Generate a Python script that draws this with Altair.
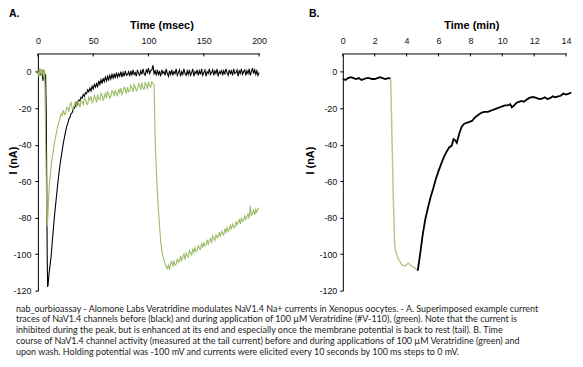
import altair as alt
import pandas as pd

# ---------------- Panel A: current traces (msec, nA) ----------------
black_t_fast = [0, 1, 2, 3, 4, 4.7, 5, 6, 7, 7.5, 8, 8.4, 8.8, 9.2, 10, 11, 12, 13, 14, 15,
                16, 17, 18, 19, 20, 21, 22, 23, 24]
black_v_fast = [-1, 1, -2, 0, -2, -5, 1, -1, -2, -20, -60, -100, -118, -117, -111, -106, -101, -93, -86, -79,
                -73, -67, -61, -56, -51, -47, -43, -39, -36]
black_t_slow = list(range(25, 201))
black_v_slow = [
    -33, -30, -28.5, -26, -25, -23, -22.5, -20.5, -20, -18.5,
    -17, -18, -15.5, -16, -14, -14.5, -12.5, -13.5, -11.5, -12,
    -10, -11, -9, -10.5, -8, -9.5, -7, -8.5, -6.5, -8,
    -5, -7, -4.5, -6.5, -3.5, -5.5, -3, -5, -2.5, -4.5,
    -2, -4, -1.5, -3.5, -1, -3.5, -0.5, -3, -1, -2.5,
    0, -3, -0.5, -2.5, 0.5, -2, -1.5, 0, -2.5, 0.5,
    -2, 1, -1.5, -0.5, -2.5, 1, -1, -2, 0.5, -1.5,
    1.5, -1, -2, 1, -0.5, 2, -1, 0.5, 1, 3.5,
    -1, 0.5, -2, 1, -1.5, 0, -2.5, 1, -1, 0,
    -2, 1.5, -1, -2.5, 0.5, -1.5, 1, -2, 0, -1,
    1.5, -2, -0.5, 1, -2.5, 0, -1.5, 1.5, -1, -2,
    0.5, -1.5, 1, -2, -0.5, 1.5, -2.5, 0, -1, 1,
    -2, 0.5, -1.5, 1.5, -2, -0.5, 1, -2.5, 0, -1,
    1.5, -1.5, -0.5, 1, -2, 0.5, -1, 1.5, -2.5, 0,
    -1, 1, -2, 0.5, -1.5, 1.5, -0.5, -2, 1, -1,
    0.5, -2, 1.5, -1, -0.5, 1, -2.5, 0.5, -1, 1.5,
    -1.5, 0, 1, -2, 0.5, -1, 1.5, -2, 0, 2,
    -1, 1, -1.5, 0.5, -2, -0.5,
]

green_t_fast = [0, 1, 2, 3, 4, 5, 5.5, 6, 6.4, 6.8, 7.2, 7.7, 8.1, 8.5, 9, 9.8, 10.5, 11.5,
                12.5, 13.7, 15, 16.7, 18, 19.6]
green_v_fast = [1, -3, 2, -2, 1.5, -3, 1, -2, -10, -28, -45, -64, -78, -85, -80, -68, -61, -55,
                -49, -44.5, -39, -33.5, -29.5, -26.4]
green_t_mid = list(range(21, 105))
green_v_mid = [
    -23, -24, -21, -23.5, -23, -19.5, -20, -22, -18, -17,
    -20, -20.5, -17.5, -16.5, -19.5, -15.5, -17.5, -19.5, -16, -16.5,
    -18, -14.5, -15, -17.5, -18, -14, -15.5, -13.5, -17, -16,
    -13, -14.5, -17, -12.5, -15, -15.5, -12, -12.5, -15.5, -14,
    -11.5, -14.5, -11, -12, -14.5, -13.5, -10.5, -11, -13.5, -10,
    -12.5, -13, -9.5, -11.5, -9, -12.5, -11, -8.5, -9.5, -12,
    -8.5, -11, -10.5, -7.5, -9, -11, -7, -8.5, -10.5, -9.5,
    -6.5, -7.5, -10, -6, -9, -9.5, -6, -7, -9.5, -5.5,
    -8, -8.5, -5.5, -6.5,
]
green_t_drop = [105, 105.5, 106, 107, 108, 109, 110, 111, 112, 113, 114, 115, 116, 117]
green_v_drop = [-7, -20, -38, -52, -65.5, -76, -85, -93, -97.5, -101, -103.6, -105, -107, -108]
green_t_tail = list(range(118, 201))
green_v_tail = [
    -106, -108.5, -105, -104, -107, -103.5, -106, -105.5, -102.5, -104.5,
    -104, -101, -103.5, -101.5, -100, -103, -99.5, -101, -101.5, -98,
    -99.5, -100.5, -97, -99, -96.5, -98.5, -98, -95, -97, -97.5,
    -94, -96.5, -93.5, -95.5, -95, -92, -94.5, -92.5, -91.5, -94,
    -90, -91.5, -92.5, -89, -91, -90.5, -88, -90.5, -87.5, -88.5,
    -89.5, -86, -88, -85.5, -87.5, -86.5, -84, -86.5, -83.5, -85,
    -85.5, -82, -84, -82.5, -81, -83.5, -80, -82, -81.5, -79,
    -81, -79.5, -78, -80.5, -73.5, -79, -77.5, -76, -78.5, -75.5,
    -77, -75, -74.5,
]

# ---------------- Panel B: time course (min, nA) ----------------
b_pre_t = [0, 0.17, 0.33, 0.5, 0.67, 0.83, 1.0, 1.17, 1.33, 1.5, 1.67, 1.83, 2.0, 2.17, 2.33,
           2.5, 2.67, 2.83, 3.0]
b_pre_v = [-4, -4.5, -3.5, -3, -3.5, -4, -3.5, -4.5, -4, -3.5, -3.5, -4, -4, -3.5, -3,
           -3.5, -4, -3.5, -3.7]
b_ver_t = [3.0, 3.17, 3.25, 3.33, 3.5, 3.7, 3.9, 4.1, 4.33, 4.5, 4.7]
b_ver_v = [-3.7, -70, -95, -99, -103, -105.8, -106.6, -105, -106.6, -107.5, -109]
b_wash_t = [4.7, 4.85, 5.0, 5.17, 5.33, 5.5, 5.67, 5.83, 6.0, 6.17, 6.33, 6.5, 6.67, 6.83,
            6.94, 7.04, 7.15, 7.3, 7.46, 7.62, 7.77, 7.94, 8.1, 8.29, 8.45, 8.6, 8.75, 8.9,
            9.1, 9.25, 9.4, 9.55, 9.7, 9.85, 10.0, 10.17, 10.33, 10.5, 10.6, 10.75, 10.9,
            11.05, 11.2, 11.35, 11.5, 11.67, 11.83, 12.0, 12.17, 12.33, 12.5, 12.67, 12.83,
            13.0, 13.17, 13.33, 13.5, 13.67, 13.83, 14.0, 14.17, 14.33]
b_wash_v = [-109, -100, -90, -81, -75, -69, -64, -59, -54.5, -50.5, -47, -44, -41.5, -40.5,
            -37, -37.5, -39, -34, -30, -28.5, -28, -27.5, -27, -25, -24, -23, -22.3, -22,
            -22, -21.5, -21, -20.5, -20, -19.5, -19, -18.5, -18.5, -17.8, -19.5, -18.5, -17,
            -16.5, -16, -16.5, -15.5, -14.5, -14, -14, -14.5, -15, -14.8, -14, -15,
            -14.5, -13.5, -14, -13.5, -13.2, -12, -12.5, -12, -11.5]

a_xticks = [0, 50, 100, 150, 200]
b_xticks = [0, 2, 4, 6, 8, 10, 12, 14]
y_ticks = [-120, -100, -80, -60, -40, -20, 0]

caption_lines = [
    "nab_ourbioassay - Alomone Labs Veratridine modulates NaV1.4 Na+ currents in Xenopus oocytes. - A. Superimposed example current",
    "traces of NaV1.4 channels before (black) and during application of 100 \u00b5M Veratridine (#V-110), (green). Note that the current is",
    "inhibited during the peak, but is enhanced at its end and especially once the membrane potential is back to rest (tail). B. Time",
    "course of NaV1.4 channel activity (measured at the tail current) before and during applications of 100 \u00b5M Veratridine (green) and",
    "upon wash. Holding potential was -100 mV and currents were elicited every 10 seconds by 100 ms steps to 0 mV.",
]

# ---------------- build tables ----------------
a_black = pd.DataFrame({"t": black_t_fast + black_t_slow, "v": black_v_fast + black_v_slow})
a_green = pd.DataFrame({"t": green_t_fast + green_t_mid + green_t_drop + green_t_tail,
                        "v": green_v_fast + green_v_mid + green_v_drop + green_v_tail})
b_pre = pd.DataFrame({"t": b_pre_t, "v": b_pre_v})
b_ver = pd.DataFrame({"t": b_ver_t, "v": b_ver_v})
b_wash = pd.DataFrame({"t": b_wash_t, "v": b_wash_v})

LABEL_FONT = "Liberation Sans, Arial, sans-serif"
TITLE_FONT = "Liberation Sans, Arial, sans-serif"
GREEN_A = "#9dbd67"
GREEN_B = "#c4c192"
HYPHEN = "replace(datum.label, '\u2212', '-')"


def x_axis(title, values, title_x):
    return alt.Axis(orient="top", title=title, values=values, ticks=False, grid=False,
                    domainColor="#000", labelFont=LABEL_FONT, labelFontSize=9, labelColor="#111",
                    labelPadding=8, titleFont=TITLE_FONT, titleFontSize=11, titleFontWeight="bold",
                    titleColor="#000", titlePadding=6, titleX=title_x, labelFlush=False)


def y_axis(title_x, title_y, label_pad):
    return alt.Axis(orient="left", title="I (nA)", values=y_ticks, tickSize=3, tickColor="#000",
                    grid=False, domainColor="#000", labelFont=LABEL_FONT, labelFontSize=9,
                    labelColor="#111", labelPadding=label_pad, labelExpr=HYPHEN,
                    titleFont=TITLE_FONT, titleFontSize=11,
                    titleFontWeight="bold", titleColor="#000", titleX=title_x, titleY=title_y)


def panel(layers_data, xdomain, xticks, xtitle, title_x, ytitle_x, ytitle_y, label_pad, w, h, letter, letter_dx):
    xs = alt.Scale(domain=xdomain, nice=False, zero=False)
    ys = alt.Scale(domain=[-120, 10], nice=False, zero=False)
    xa = x_axis(xtitle, xticks, title_x)
    ya = y_axis(ytitle_x, ytitle_y, label_pad)
    layers = []
    for df, color, width in layers_data:
        layers.append(alt.Chart(df).mark_line(color=color, strokeWidth=width, interpolate="linear")
                      .encode(x=alt.X("t:Q", scale=xs, axis=xa),
                              y=alt.Y("v:Q", scale=ys, axis=ya), order="t:Q"))
    ticks = alt.Chart(pd.DataFrame({"t": xticks})).mark_rule(color="#000", strokeWidth=1).encode(
        x=alt.X("t:Q", scale=xs, axis=xa), y=alt.value(0), y2=alt.value(3))
    layers.append(ticks)
    return alt.layer(*layers).properties(
        width=w, height=h,
        title=alt.TitleParams(letter, anchor="start", frame="group", font=TITLE_FONT, fontSize=10.5,
                              fontWeight="bold", color="#000", dx=letter_dx, offset=0))


panel_a = panel([(a_black, "#000000", 1.1), (a_green, GREEN_A, 1.1)], [0, 200], a_xticks,
                "Time (msec)", 124, -19, 107, 4, 222, 238, "A.", -29)
panel_b = panel([(b_pre, "#000000", 1.8), (b_ver, GREEN_B, 1.5), (b_wash, "#000000", 1.8)],
                [0, 14], b_xticks, "Time (min)", 129, -27, 107, 3, 224, 238, "B.", -34)

chart = alt.hconcat(panel_a, panel_b, spacing=38).properties(
    padding={"left": 0, "top": 0, "right": 0, "bottom": 0},
    background="white",
    title=alt.TitleParams(caption_lines, orient="bottom", anchor="start", font="Lato, Open Sans, sans-serif",
                          fontSize=9, fontWeight="normal", color="#222", lineHeight=10.8, offset=9, dx=8),
).configure_view(stroke=None)

chart.save("out.html", embed_options={"renderer": "svg", "actions": False})
